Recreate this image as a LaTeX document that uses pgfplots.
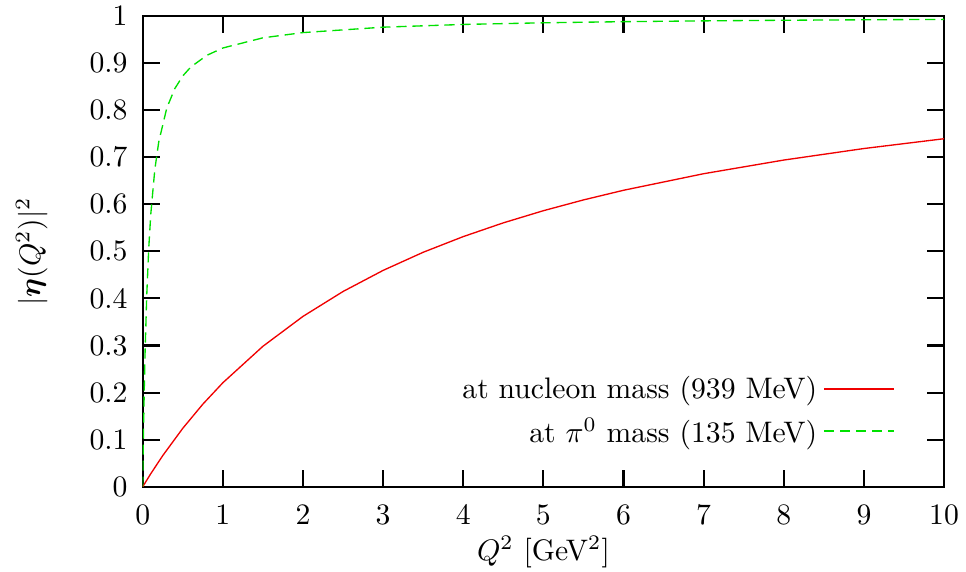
\documentclass[border=0pt]{standalone}
\usepackage{pgfplots}
\pgfplotsset{compat=1.18}
\usepackage{bm}

\definecolor{nucred}{RGB}{240,0,0}
\definecolor{piongreen}{RGB}{0,225,0}

% |eta(Q^2)|^2 at the nucleon mass
\pgfplotstableread{
x y
0 0
0.1 0.0276
0.25 0.0662
0.5 0.1242
0.75 0.1754
1 0.2209
1.5 0.2984
2 0.3619
2.5 0.4148
3 0.4596
3.5 0.4981
4 0.5314
4.5 0.5606
5 0.5864
5.5 0.6093
6 0.6298
7 0.6650
8 0.6940
9 0.7185
10 0.7393
}\nucleon

% |eta(Q^2)|^2 at the pi0 mass
\pgfplotstableread{
x y
0 0
0.005 0.0642
0.01 0.1206
0.02 0.2153
0.03 0.2915
0.05 0.4068
0.075 0.5071
0.1 0.5784
0.15 0.6730
0.2 0.7329
0.3 0.8045
0.4 0.8458
0.5 0.8728
0.6 0.8917
0.8 0.9165
1 0.9321
1.5 0.9537
2 0.9648
3 0.9763
4 0.9821
5 0.9856
6 0.9880
7 0.9897
8 0.9910
9 0.9920
10 0.9928
}\pion

\begin{document}
\begin{tikzpicture}
\begin{axis}[
  at={(0,0)}, anchor=south west,
  scale only axis,
  width=270pt, height=158.6pt,
  xmin=0, xmax=10, ymin=0, ymax=1,
  xtick={0,1,...,10},
  ytick={0,0.1,...,1.0},
  yticklabels={0,0.1,0.2,0.3,0.4,0.5,0.6,0.7,0.8,0.9,1},
  tick align=inside,
  major tick length=5.7pt,
  every tick/.style={black, line width=0.7pt},
  axis line style={line width=0.7pt},
  xticklabel style={yshift=-2.7pt},
  yticklabel style={xshift=-1.6pt},
  xlabel={$Q^2$ [GeV$^2$]},
  ylabel={$|\bm{\eta}(Q^2)|^2$},
  xlabel style={at={(axis description cs:0.5,-0.138)}, anchor=center},
  ylabel style={at={(axis description cs:-0.1385,0.5)}, anchor=center},
  legend style={draw=none, fill=none, at={(0.951,0.059)}, anchor=south east,
    row sep=1pt, font=\normalsize},
  legend cell align=right,
  legend plot pos=right,
  legend image code/.code={\draw[#1, line width=0.7pt] (0pt,0.3pt) -- (23.6pt,0.3pt);},
]
\addplot[nucred, line width=0.45pt] table[x=x,y=y] {\nucleon};
\addlegendentry{at nucleon mass (939 MeV)}
\addplot[piongreen, line width=0.45pt, dash pattern=on 3.4pt off 2pt] table[x=x,y=y] {\pion};
\addlegendentry{at $\pi^0$ mass (135 MeV)}
\end{axis}
% page frame around the 270pt x 158.6pt plot box
\pgfresetboundingbox
\path[use as bounding box] (-48.1pt,-28.6pt) rectangle (277.4pt,164pt);
\end{tikzpicture}
\end{document}
